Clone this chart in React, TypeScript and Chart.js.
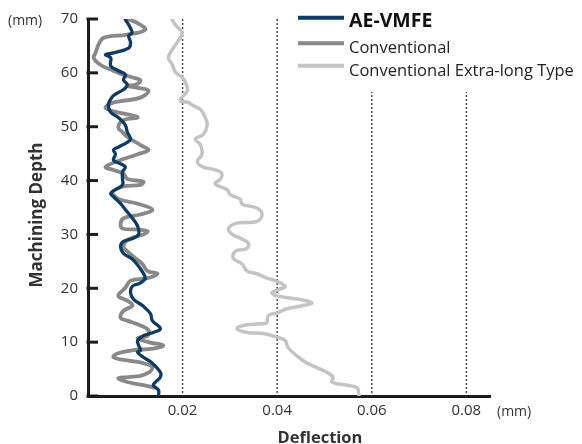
import React, { useEffect, useRef } from "react";
import { Chart, registerables } from "chart.js";

Chart.register(...registerables);

// ---- data (depth in mm, deflection in mm) ----
const aeDepth = [69.9, 68.3, 67.4, 66.9, 65.6, 64.6, 63.7, 63.4, 62.8, 61.3, 60.4, 59.7, 58.7, 57.8, 56.9, 55.8, 55.1, 54.0, 52.7, 51.7, 50.3, 49.0, 47.7, 47.1, 46.2, 45.7, 44.9, 43.8, 43.1, 42.5, 41.6, 40.3, 39.2, 38.3, 37.6, 37.0, 35.7, 34.6, 33.0, 31.5, 30.0, 29.3, 28.7, 27.8, 26.5, 25.4, 24.1, 23.6, 21.9, 21.0, 20.4, 19.2, 18.0, 16.8, 15.3, 14.0, 12.5, 11.8, 11.2, 10.3, 9.4, 8.5, 8.1, 7.2, 6.1, 4.4, 3.5, 2.6, 2.0, 1.1, 0];
const aeDefl = [0.0079, 0.0090, 0.0093, 0.0086, 0.0090, 0.0086, 0.0054, 0.0037, 0.0048, 0.0048, 0.0064, 0.0079, 0.0075, 0.0083, 0.0075, 0.0054, 0.0048, 0.0043, 0.0048, 0.0064, 0.0079, 0.0083, 0.0090, 0.0083, 0.0064, 0.0054, 0.0058, 0.0054, 0.0069, 0.0079, 0.0073, 0.0073, 0.0073, 0.0058, 0.0048, 0.0054, 0.0069, 0.0079, 0.0094, 0.0105, 0.0107, 0.0096, 0.0075, 0.0069, 0.0075, 0.0094, 0.0107, 0.0111, 0.0121, 0.0111, 0.0094, 0.0090, 0.0096, 0.0115, 0.0132, 0.0136, 0.0153, 0.0138, 0.0117, 0.0105, 0.0107, 0.0111, 0.0105, 0.0117, 0.0136, 0.0153, 0.0153, 0.0143, 0.0138, 0.0149, 0.0149];

const convDepth = [69.9, 69.3, 68.0, 67.1, 66.5, 65.2, 63.7, 62.8, 61.5, 60.6, 59.7, 59.1, 58.6, 57.8, 57.6, 57.2, 56.7, 55.4, 54.8, 54.5, 53.6, 53.0, 52.3, 51.7, 51.2, 49.9, 49.0, 48.1, 46.6, 45.7, 44.9, 44.0, 43.1, 42.5, 42.0, 41.3, 40.3, 39.8, 39.2, 38.9, 37.9, 36.6, 35.7, 34.6, 33.7, 33.0, 32.0, 31.1, 30.9, 30.6, 30.0, 29.1, 27.8, 26.9, 25.6, 24.5, 23.2, 22.7, 21.9, 21.4, 20.1, 18.6, 17.7, 16.8, 15.8, 14.5, 14.0, 13.1, 12.2, 11.2, 10.7, 9.9, 9.4, 8.8, 8.5, 7.9, 7.2, 6.6, 6.1, 5.2, 3.9, 3.5, 3.3, 2.6, 2.0, 1.5];
const convDefl = [0.0086, 0.0104, 0.0121, 0.0083, 0.0033, 0.0022, 0.0016, 0.0012, 0.0026, 0.0048, 0.0073, 0.0096, 0.0111, 0.0100, 0.0083, 0.0105, 0.0128, 0.0111, 0.0073, 0.0054, 0.0037, 0.0048, 0.0083, 0.0105, 0.0075, 0.0064, 0.0073, 0.0083, 0.0111, 0.0128, 0.0105, 0.0075, 0.0048, 0.0037, 0.0052, 0.0075, 0.0083, 0.0117, 0.0111, 0.0075, 0.0052, 0.0064, 0.0105, 0.0136, 0.0111, 0.0075, 0.0069, 0.0073, 0.0105, 0.0126, 0.0117, 0.0086, 0.0075, 0.0083, 0.0100, 0.0115, 0.0126, 0.0147, 0.0126, 0.0090, 0.0079, 0.0064, 0.0083, 0.0094, 0.0075, 0.0069, 0.0083, 0.0111, 0.0128, 0.0126, 0.0105, 0.0132, 0.0159, 0.0138, 0.0096, 0.0062, 0.0054, 0.0083, 0.0117, 0.0136, 0.0117, 0.0086, 0.0064, 0.0083, 0.0117, 0.0143];

const extDepth = [69.9, 68.9, 67.4, 66.0, 64.3, 62.8, 61.6, 60.1, 59.2, 58.2, 56.7, 54.9, 54.5, 53.9, 53.2, 51.7, 50.3, 48.6, 47.7, 46.6, 44.9, 43.5, 42.5, 42.0, 41.3, 40.3, 39.4, 38.3, 37.4, 36.5, 35.6, 34.9, 33.7, 32.4, 32.1, 31.1, 30.0, 29.3, 28.4, 27.4, 26.9, 25.6, 24.5, 23.2, 22.7, 21.9, 21.4, 20.4, 19.9, 19.2, 18.6, 18.0, 17.3, 16.8, 16.2, 15.5, 14.9, 13.6, 13.4, 13.1, 12.5, 11.8, 11.6, 10.9, 10.3, 9.0, 7.2, 6.1, 4.4, 3.5, 2.6, 2.0, 1.5, 0];
const extDefl = [0.0178, 0.0185, 0.0199, 0.0191, 0.0178, 0.0170, 0.0178, 0.0185, 0.0199, 0.0206, 0.0210, 0.0195, 0.0212, 0.0223, 0.0238, 0.0248, 0.0252, 0.0244, 0.0227, 0.0238, 0.0241, 0.0231, 0.0244, 0.0269, 0.0283, 0.0280, 0.0269, 0.0294, 0.0301, 0.0322, 0.0326, 0.0357, 0.0368, 0.0357, 0.0315, 0.0297, 0.0305, 0.0322, 0.0339, 0.0336, 0.0312, 0.0307, 0.0326, 0.0336, 0.0357, 0.0378, 0.0396, 0.0417, 0.0407, 0.0389, 0.0400, 0.0442, 0.0473, 0.0455, 0.0421, 0.0402, 0.0381, 0.0378, 0.0364, 0.0328, 0.0315, 0.0336, 0.0371, 0.0400, 0.0417, 0.0423, 0.0445, 0.0463, 0.0505, 0.0518, 0.0516, 0.0547, 0.0569, 0.0573];

const xTicks = [0.02, 0.04, 0.06, 0.08];
const yTicks = [0, 10, 20, 30, 40, 50, 60, 70];
const seriesNames = ["AE-VMFE", "Conventional", "Conventional Extra-long Type"];
const seriesColors = ["#0f3b60", "#898989", "#c4c4c4"];
const xTitle = "Deflection";
const yTitle = "Machining Depth";
const unitLabel = "(mm)";

const FONT = "'Open Sans', sans-serif";
const TEXT = "#333333";
const AXIS = "#1c1c1c";

function toPoints(depth: number[], defl: number[]) {
  return depth.map((d, i) => ({ x: defl[i], y: d }));
}

export default function App() {
  const ref = useRef<HTMLCanvasElement>(null);

  useEffect(() => {
    document.body.style.margin = "0";
    const canvas = ref.current;
    if (!canvas) return;

    const deco = {
      id: "deco",
      beforeDatasetsDraw(chart: any) {
        const { ctx, chartArea: ca, scales } = chart;
        const x = scales.x;
        ctx.save();
        ctx.strokeStyle = "#444";
        ctx.lineWidth = 1.4;
        ctx.setLineDash([2, 2]);
        xTicks.forEach((v) => {
          const px = x.getPixelForValue(v);
          ctx.beginPath();
          ctx.moveTo(px, ca.top);
          ctx.lineTo(px, ca.bottom);
          ctx.stroke();
        });
        ctx.setLineDash([]);
        // legend backdrop
        ctx.fillStyle = "#ffffff";
        ctx.fillRect(296, 0, 286, 92);
        ctx.restore();
      },
      afterDraw(chart: any) {
        const { ctx, chartArea: ca, scales } = chart;
        const y = scales.y;
        ctx.save();
        // inward y tick marks
        ctx.strokeStyle = AXIS;
        ctx.lineWidth = 3;
        yTicks.forEach((v) => {
          const py = y.getPixelForValue(v);
          ctx.beginPath();
          ctx.moveTo(ca.left - 1.5, py);
          ctx.lineTo(ca.left + 10, py);
          ctx.stroke();
        });
        // legend
        const rows = [
          { ly: 17.7, ty: 26.5, font: `bold 19.5px ${FONT}`, lw: 4 },
          { ly: 43.3, ty: 53.3, font: `16.5px ${FONT}`, lw: 4 },
          { ly: 65.7, ty: 75.5, font: `16.5px ${FONT}`, lw: 4 },
        ];
        rows.forEach((r, i) => {
          ctx.strokeStyle = seriesColors[i];
          ctx.lineWidth = r.lw;
          ctx.beginPath();
          ctx.moveTo(298, r.ly);
          ctx.lineTo(344, r.ly);
          ctx.stroke();
          ctx.fillStyle = i === 0 ? "#111" : "#222";
          ctx.font = r.font;
          ctx.textAlign = "left";
          ctx.textBaseline = "alphabetic";
          ctx.fillText(seriesNames[i], 349, r.ty);
        });
        // unit labels
        ctx.fillStyle = TEXT;
        ctx.font = `14px ${FONT}`;
        ctx.textBaseline = "middle";
        ctx.textAlign = "left";
        ctx.fillText(unitLabel, 8, 21);
        ctx.fillText(unitLabel, 497, 412);
        // axis titles
        ctx.font = `bold 16.5px ${FONT}`;
        ctx.textAlign = "center";
        ctx.fillText(xTitle, 320, 438);
        ctx.save();
        ctx.translate(37, 215);
        ctx.rotate(-Math.PI / 2);
        ctx.font = `bold 17px ${FONT}`;
        ctx.fillText(yTitle, 0, 0);
        ctx.restore();
        ctx.restore();
      },
    };

    const mk = (i: number, depth: number[], defl: number[], w: number) => ({
      label: seriesNames[i],
      data: toPoints(depth, defl),
      showLine: true,
      borderColor: seriesColors[i],
      backgroundColor: seriesColors[i],
      borderWidth: w,
      pointRadius: 0,
      tension: 0.4,
      fill: false,
      borderJoinStyle: "round",
      borderCapStyle: "round",
    });

    const chart = new Chart(canvas, {
      type: "scatter",
      data: {
        datasets: [
          mk(0, aeDepth, aeDefl, 3.3),
          mk(1, convDepth, convDefl, 3.8),
          mk(2, extDepth, extDefl, 3.5),
        ] as any,
      },
      options: {
        responsive: false,
        animation: false,
        devicePixelRatio: 1,
        layout: { padding: { left: 0, top: 16, right: 92, bottom: 0 } },
        plugins: { legend: { display: false }, tooltip: { enabled: false } },
        scales: {
          x: {
            type: "linear",
            min: 0,
            max: 0.085,
            afterBuildTicks: (s: any) => {
              s.ticks = xTicks.map((v) => ({ value: v }));
            },
            afterFit: (s: any) => {
              s.height = 48;
            },
            ticks: {
              autoSkip: false,
              maxRotation: 0,
              padding: 6,
              color: TEXT,
              font: { family: FONT, size: 15 },
              callback: (v: any) => Number(v).toFixed(2),
            },
            grid: { display: true, color: "rgba(0,0,0,0)", drawTicks: false },
            border: { display: true, width: 3, color: AXIS },
          },
          y: {
            type: "linear",
            min: 0,
            max: 70,
            afterBuildTicks: (s: any) => {
              s.ticks = yTicks.map((v) => ({ value: v }));
            },
            afterFit: (s: any) => {
              s.width = 88;
            },
            ticks: {
              autoSkip: false,
              padding: 10,
              color: TEXT,
              font: { family: FONT, size: 15 },
              callback: (v: any) => String(v),
            },
            grid: { display: true, color: "rgba(0,0,0,0)", drawTicks: false },
            border: { display: true, width: 3, color: AXIS },
          },
        },
      } as any,
      plugins: [deco],
    });

    return () => chart.destroy();
  }, []);

  return (
    <div style={{ width: 582, height: 444, background: "#fff" }}>
      <canvas ref={ref} width={582} height={444} style={{ display: "block" }} />
    </div>
  );
}
